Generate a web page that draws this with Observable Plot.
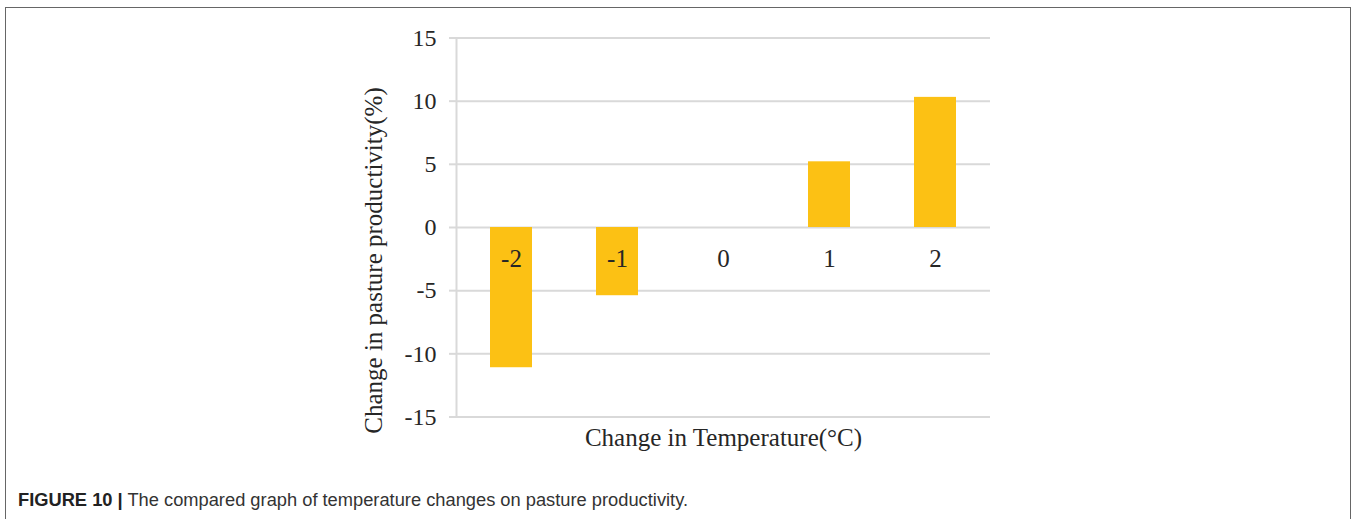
<!DOCTYPE html>
<html>
<head>
<meta charset="utf-8">
<script src="https://cdn.jsdelivr.net/npm/d3@7"></script>
<script src="https://cdn.jsdelivr.net/npm/@observablehq/plot@0.6"></script>
<style>
  html, body { margin: 0; padding: 0; background: #fff; overflow: hidden; }
  body { width: 1357px; height: 519px; position: relative; }
  #box {
    position: absolute; left: 5px; top: 7px; width: 1346px; height: 600px;
    border: 1.5px solid #666; box-sizing: border-box;
  }
  #chart { position: absolute; left: 0; top: 0; }
  #caption {
    position: absolute; left: 18px; top: 489px;
    font-family: "Liberation Sans", Arial, sans-serif; font-size: 18.3px; color: #333;
    white-space: nowrap;
  }
  #caption b { color: #222; }
</style>
</head>
<body>
<div id="box"></div>
<div id="chart"></div>
<div id="caption"><b>FIGURE 10 |</b> The compared graph of temperature changes on pasture productivity.</div>
<script>
// Temperature change scenarios (°C) and the resulting change in pasture productivity (%)
const temperatureChange = ["-2", "-1", "0", "1", "2"];
const productivityChange = [-11.1, -5.4, 0, 5.2, 10.3];
const yTicks = [-15, -10, -5, 0, 5, 10, 15];
const xTitle = "Change in Temperature(°C)";
const yTitle = "Change in pasture productivity(%)";

const rows = temperatureChange.map((t, i) => ({t, v: productivityChange[i]}));

const serif = "'Liberation Serif', 'Times New Roman', serif";
const grid = "#d9d9d9";
const ink = "#262626";

const chart = Plot.plot({
  width: 1357,
  height: 470,
  marginLeft: 456,
  marginRight: 367,
  marginTop: 37.5,
  marginBottom: 53.5,
  style: {fontFamily: serif, background: "transparent"},
  x: {domain: temperatureChange, paddingInner: 0.6, paddingOuter: 0.3, axis: null},
  y: {domain: [-15, 15]},
  marks: [
    Plot.ruleY(yTicks, {stroke: grid, strokeWidth: 2}),
    Plot.frame({anchor: "left", stroke: grid, strokeWidth: 2}),
    Plot.axisY({
      ticks: yTicks, tickSize: 7, tickPadding: 13, label: null,
      tickFormat: d => String(d),
      stroke: grid, strokeWidth: 2, fill: ink, fontSize: 24
    }),
    Plot.barY(rows, {x: "t", y: "v", fill: "#fcc114"}),
    Plot.text(rows, {x: "t", y: 0, text: "t", dy: 31, fontSize: 25, fill: ink}),
    Plot.text([xTitle], {frameAnchor: "bottom", dy: 29, fontSize: 25, fill: ink}),
    Plot.text([yTitle], {
      frameAnchor: "left", textAnchor: "middle", dx: -83, dy: 33,
      rotate: -90, fontSize: 25, fill: ink
    })
  ]
});
document.getElementById("chart").appendChild(chart);
</script>
</body>
</html>
